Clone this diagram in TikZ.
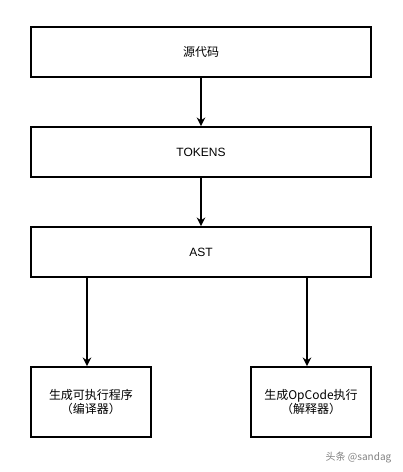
\documentclass[tikz,border=0pt]{standalone}
\usepackage{fontspec}
\setmainfont{Liberation Sans}
\newfontfamily\cjk{Noto Sans CJK SC}
\usetikzlibrary{positioning,arrows.meta}
\tikzset{
  blok/.style={draw,line width=1.4pt,rectangle,inner sep=0pt,align=center,
    font=\cjk\fontsize{9pt}{10.5pt}\selectfont},
  wide/.style={blok,minimum width=255pt,minimum height=37.5pt},
  small/.style={blok,minimum width=90pt,minimum height=52.5pt},
  pijl/.style={-{Stealth[length=6.5pt,width=6.5pt,inset=2.2pt]},line width=1.5pt}
}
\begin{document}
\begin{tikzpicture}[x=0.75pt,y=-0.75pt]
	\useasboundingbox (0,0) rectangle (403,472);
	% boxes
	\node[wide] (src) at (201,52) {源代码};
	\node[wide] (tok) at (201,152) {\fontspec{Liberation Sans}TOKENS};
	\node[wide] (ast) at (201,252) {\fontspec{Liberation Sans}AST};
	\node[small] (cmp) at (91,402) {生成可执行程序\\（编译器）};
	\node[small] (itp) at (311,402) {生成OpCode执行\\（解释器）};
	% arrows
	\draw[pijl] (src) -- (tok);
	\draw[pijl] (tok) -- (ast);
	\coordinate (l) at ([xshift=-3pt]cmp.north);
	\coordinate (r) at ([xshift=-3pt]itp.north);
	\draw[pijl] (ast.south -| l) -- (l);
	\draw[pijl] (ast.south -| r) -- (r);
	\node[text=gray,font=\cjk\fontsize{7.5pt}{9pt}\selectfont,anchor=west] (wm) at (321,458) {头条 @sandag};
\end{tikzpicture}
\end{document}
